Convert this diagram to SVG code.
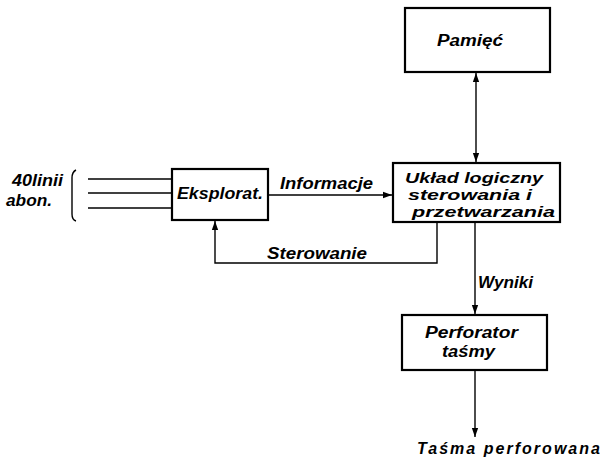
<svg xmlns="http://www.w3.org/2000/svg" width="606" height="464" viewBox="0 0 606 464">
<style>
.box{fill:#fff;stroke:#000;stroke-width:2.2}
.ln{fill:none;stroke:#000;stroke-width:1.4}
text{font-family:"Liberation Sans",Arial,sans-serif;font-style:italic;font-weight:bold;font-size:16px;fill:#000}
.s{font-size:14px}
</style>
<defs>
<marker id="ah" viewBox="0 0 10 10" refX="10" refY="5" markerWidth="9" markerHeight="9" markerUnits="userSpaceOnUse" orient="auto-start-reverse">
<path d="M0,1.5 L10,5 L0,8.5 Z" fill="#000"/>
</marker>
</defs>
<rect width="606" height="464" fill="#fff"/>
<g id="connectors">
<line class="ln" x1="476" y1="73" x2="476" y2="162" marker-start="url(#ah)" marker-end="url(#ah)"/>
<line class="ln" x1="88" y1="179" x2="172" y2="179"/>
<line class="ln" x1="88" y1="193" x2="172" y2="193"/>
<line class="ln" x1="88" y1="208" x2="172" y2="208"/>
<path class="ln" d="M76,170 Q72,172 72,178 L72,214 Q72,220 76,221"/>
<line class="ln" x1="268" y1="195" x2="392" y2="195" marker-end="url(#ah)"/>
<polyline class="ln" points="437,223 437,263 215,263 215,221" marker-end="url(#ah)"/>
<line class="ln" x1="475" y1="223" x2="475" y2="314" marker-end="url(#ah)"/>
<line class="ln" x1="475" y1="371" x2="475" y2="437" marker-end="url(#ah)"/>
</g>
<g id="pamiec">
<rect class="box" x="405" y="8" width="145" height="64"/>
<text x="437" y="46" textLength="66" lengthAdjust="spacingAndGlyphs">Pamięć</text>
</g>
<g id="uklad">
<rect class="box" x="393" y="163" width="167" height="59"/>
<text class="s" x="405" y="183" textLength="138" lengthAdjust="spacingAndGlyphs">Układ  logiczny</text>
<text class="s" x="408" y="200" textLength="124" lengthAdjust="spacingAndGlyphs">sterowania  i</text>
<text class="s" x="412" y="217" textLength="143" lengthAdjust="spacingAndGlyphs">przetwarzania</text>
</g>
<g id="eksplorat">
<rect class="box" x="172" y="169" width="96" height="51"/>
<text x="177" y="199" textLength="86" lengthAdjust="spacingAndGlyphs">Eksplorat.</text>
</g>
<g id="perforator">
<rect class="box" x="402" y="315" width="145" height="55"/>
<text x="425" y="338" textLength="93" lengthAdjust="spacingAndGlyphs">Perforator</text>
<text x="442" y="357" textLength="53" lengthAdjust="spacingAndGlyphs">taśmy</text>
</g>
<g id="labels">
<text x="12" y="186" textLength="51" lengthAdjust="spacingAndGlyphs">40linii</text>
<text x="6" y="206" textLength="46" lengthAdjust="spacingAndGlyphs">abon.</text>
<text x="280" y="189" textLength="93" lengthAdjust="spacingAndGlyphs">Informacje</text>
<text x="267" y="259" textLength="100" lengthAdjust="spacingAndGlyphs">Sterowanie</text>
<text x="478" y="288" textLength="55" lengthAdjust="spacingAndGlyphs">Wyniki</text>
<text x="417" y="454" textLength="183" lengthAdjust="spacing">Taśma  perforowana</text>
</g>
</svg>
